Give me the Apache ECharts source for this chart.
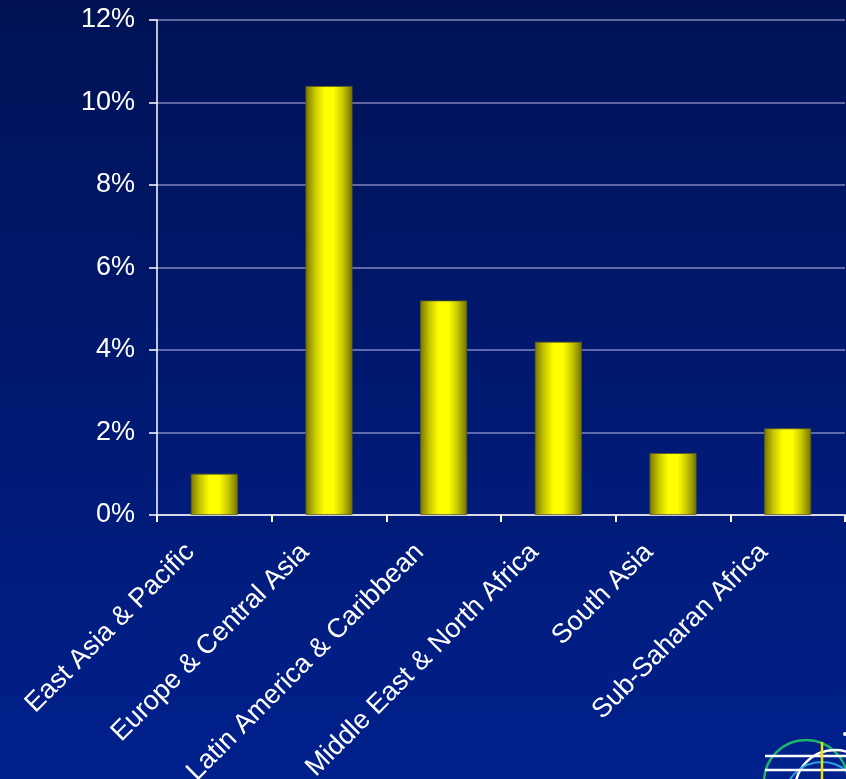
<!DOCTYPE html>
<html><head><meta charset="utf-8">
<script src="https://cdn.jsdelivr.net/npm/echarts@6/dist/echarts.min.js"></script>
<style>html,body{margin:0;padding:0;}#c{width:846px;height:779px;}</style>
</head><body><div id="c"></div>
<script>
var categories = ['East Asia & Pacific','Europe & Central Asia','Latin America & Caribbean','Middle East & North Africa','South Asia','Sub-Saharan Africa'];
var values = [1.0, 10.4, 5.2, 4.2, 1.5, 2.1];
var yTicks = [0, 2, 4, 6, 8, 10, 12];

var chart = echarts.init(document.getElementById('c'));
var barGrad = new echarts.graphic.LinearGradient(0,0,1,0,[
  {offset:0,color:'#767600'},{offset:0.2,color:'#c8c800'},{offset:0.4,color:'#ffff00'},
  {offset:0.6,color:'#ffff00'},{offset:0.8,color:'#c4c400'},{offset:1,color:'#707000'}]);
chart.setOption({
  backgroundColor: new echarts.graphic.LinearGradient(0,0,0,1,[{offset:0,color:'#001255'},{offset:1,color:'#00208c'}]),
  animation:false,
  grid:{left:157,right:1,top:20,bottom:264,containLabel:false,outerBoundsMode:'none'},
  xAxis:{type:'category',data:categories,
    axisLine:{lineStyle:{color:'#d8d8e8',width:2}},
    axisTick:{show:true,alignWithLabel:false,length:7,lineStyle:{color:'#ffffff',width:2}},
    axisLabel:{rotate:45,color:'#ffffff',fontFamily:'Liberation Sans, Arial',fontSize:27,margin:9,interval:0,padding:[0,34,0,0]}},
  yAxis:{type:'value',min:0,max:12,interval:2,
    axisLine:{show:true,lineStyle:{color:'#ffffff',width:1.5}},
    axisTick:{show:true,length:8,lineStyle:{color:'#ffffff',width:1.5}},
    splitLine:{lineStyle:{color:'rgba(170,170,220,0.75)',width:1.5}},
    axisLabel:{color:'#ffffff',fontFamily:'Liberation Sans, Arial',fontSize:27,margin:22,
      formatter:function(v){return yTicks.indexOf(v)>=0? v+'%':'';}}},
  series:[{type:'bar',data:values,barWidth:'41%',
    itemStyle:{color:barGrad,borderColor:'#5a5a20',borderWidth:0.8}}],
  graphic:[
    {type:'circle',shape:{cx:806,cy:782,r:42},style:{fill:'none',stroke:'#1db56a',lineWidth:2.5}},
    {type:'circle',shape:{cx:835,cy:790,r:40},style:{fill:'none',stroke:'#ffffff',lineWidth:2.5}},
    {type:'circle',shape:{cx:822,cy:800,r:38},style:{fill:'none',stroke:'#2aa0e0',lineWidth:2}},
    {type:'line',shape:{x1:765,y1:756,x2:846,y2:756},style:{stroke:'#ffffff',lineWidth:2.5}},
    {type:'line',shape:{x1:765,y1:770,x2:846,y2:770},style:{stroke:'#ffffff',lineWidth:2.5}},
    {type:'line',shape:{x1:822,y1:742,x2:822,y2:779},style:{stroke:'#f0e000',lineWidth:2.5}},
    {type:'circle',shape:{cx:845,cy:734,r:2},style:{fill:'#ffffff'}}
  ]
});
</script></body></html>
